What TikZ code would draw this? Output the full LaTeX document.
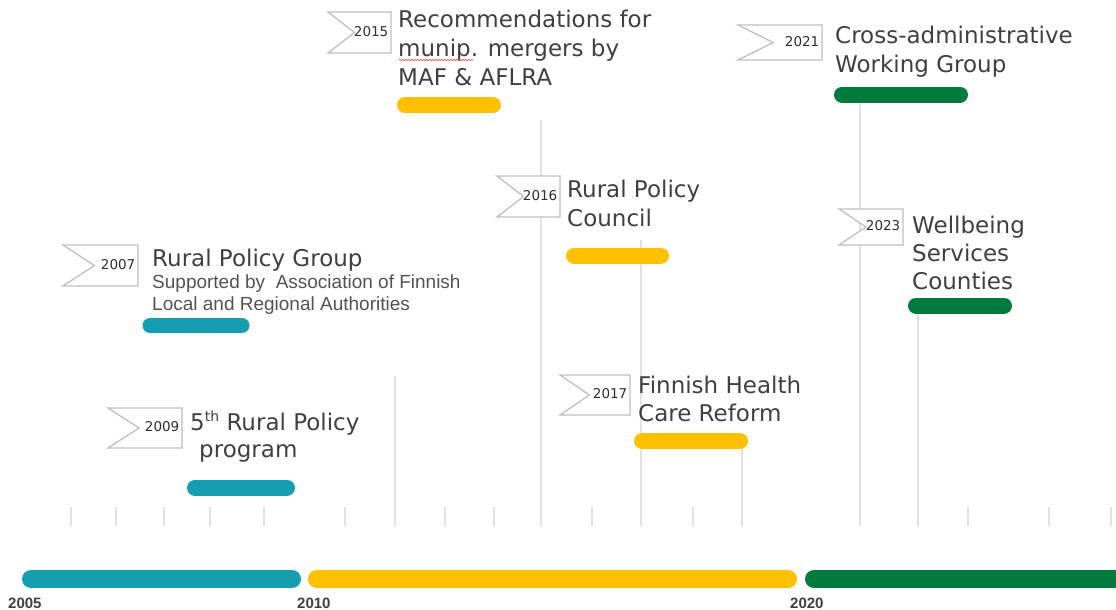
\documentclass[tikz,border=0pt]{standalone}
\usepackage{fontspec}
\setmainfont{DejaVu Sans}
\newfontfamily\subfont{Liberation Sans}
\usetikzlibrary{decorations.pathmorphing}
\definecolor{tealbar}{HTML}{149EB0}
\definecolor{goldbar}{HTML}{FFC000}
\definecolor{greenbar}{HTML}{017A3E}
\definecolor{gridgray}{HTML}{E2E2E2}
\definecolor{flaggray}{HTML}{C0C0C0}
\definecolor{inkgray}{HTML}{404040}

% notched year flag: name, x0, y0, x1, y1, year
\newcommand\yearflag[6]{%
  \draw[flagline] (#2,#3) -- (#4,#3) -- (#4,#5) -- (#2,#5)
    -- ({#2+0.42*(#4-#2)},{(#3+#5)/2}) -- cycle;
  \node[yearlbl] (#1) at ({#4-2.5},{(#3+#5)/2-1}) {#6};
}
% small raised ordinal suffix
\newcommand\ordsuffix[1]{\raisebox{0.36em}{\fontsize{14}{14}\selectfont #1}}

\begin{document}
\begin{tikzpicture}[x=1pt,y=-1pt,
  evtitle/.style={anchor=base west, inner sep=0, text=inkgray,
    font=\fontsize{23}{28}\selectfont},
  subline/.style={anchor=base west, inner sep=0, text=inkgray!90,
    font=\subfont\fontsize{19}{22}\selectfont},
  yearlbl/.style={anchor=east, inner sep=0, text=black!82,
    font=\fontsize{13.5}{15}\selectfont},
  axislbl/.style={anchor=west, inner sep=0, text=inkgray,
    font=\subfont\bfseries\fontsize{15}{16}\selectfont},
  flagline/.style={draw=flaggray, line width=1.3, fill=white},
  gridline/.style={draw=gridgray, line width=1.3},
  evbar/.style={line width=16, line cap=round},
  axisbar/.style={line width=18, line cap=round},
]
\useasboundingbox[fill=white] (0,0) rectangle (1116,610);

% short year ticks
\foreach \x in {71,116,164,210,264,345,445,494,592,693,968,1049,1111}
  \draw[gridline] (\x,507) -- (\x,526);

% long guide lines under the events
\draw[gridline] (395,376) -- (395,526);
\draw[gridline] (541,120) -- (541,526);
\draw[gridline] (641,240) -- (641,526);
\draw[gridline] (742,449) -- (742,526);
\draw[gridline] (860,100) -- (860,526);
\draw[gridline] (918,313) -- (918,526);

% period bars along the axis
\draw[axisbar, tealbar]  (31,579) -- (292,579);
\draw[axisbar, goldbar]  (317,579) -- (788,579);
\draw[axisbar, greenbar] (814,579) -- (1135,579);

\node[axislbl] (y2005) at (8,603) {2005};
\node[axislbl] (y2010) at (297,603) {2010};
\node[axislbl] (y2020) at (790,603) {2020};

% event bars
\draw[evbar, goldbar]  (405,105) -- (493,105);
\draw[evbar, goldbar]  (574,255.5) -- (661,255.5);
\draw[evbar, tealbar, line width=15]  (150,325.5) -- (242,325.5);
\draw[evbar, tealbar]  (195,487.5) -- (287,487.5);
\draw[evbar, goldbar]  (642,441) -- (740,441);
\draw[evbar, greenbar] (842,94.5) -- (960,94.5);
\draw[evbar, greenbar] (916,305.5) -- (1004,305.5);

% flags
\yearflag{f2015}{328}{12}{391}{53}{2015}
\yearflag{f2016}{497}{176}{560}{217}{2016}
\yearflag{f2007}{63}{245}{138}{286}{2007}
\yearflag{f2009}{108}{408}{182}{448}{2009}
\yearflag{f2017}{560}{375}{630}{415}{2017}
\yearflag{f2021}{738}{25}{822}{60}{2021}
\yearflag{f2023}{839}{209}{903}{245}{2023}

% 2015
\node[evtitle] (a1) at (398,28) {Recommendations for};
\node[evtitle] (a2) at (398,57) {munip. mergers by};
\node[evtitle] (a3) at (398,85) {MAF \& AFLRA};
\draw[red!65, line width=0.7, decorate,
  decoration={snake, amplitude=0.7, segment length=3}] (399,60) -- (473,60);

% 2016
\node[evtitle] (b1) at (567,197) {Rural Policy};
\node[evtitle] (b2) at (567,226) {Council};

% 2007
\node[evtitle] (c1) at (152,266) {Rural Policy Group};
\node[subline] (c2) at (152,288) {Supported by\ \ Association of Finnish};
\node[subline] (c3) at (152,310) {Local and Regional Authorities};

% 2009
\node[evtitle] (d1) at (190,430) {5\ordsuffix{th} Rural Policy};
\node[evtitle] (d2) at (199,457) {program};

% 2017
\node[evtitle] (e1) at (638,393) {Finnish Health};
\node[evtitle] (e2) at (638,421) {Care Reform};

% 2021
\node[evtitle] (g1) at (835,44) {Cross-administrative};
\node[evtitle] (g2) at (835,72) {Working Group};

% 2023
\node[evtitle] (h1) at (912,233) {Wellbeing};
\node[evtitle] (h2) at (912,261) {Services};
\node[evtitle] (h3) at (912,289) {Counties};
\end{tikzpicture}
\end{document}
